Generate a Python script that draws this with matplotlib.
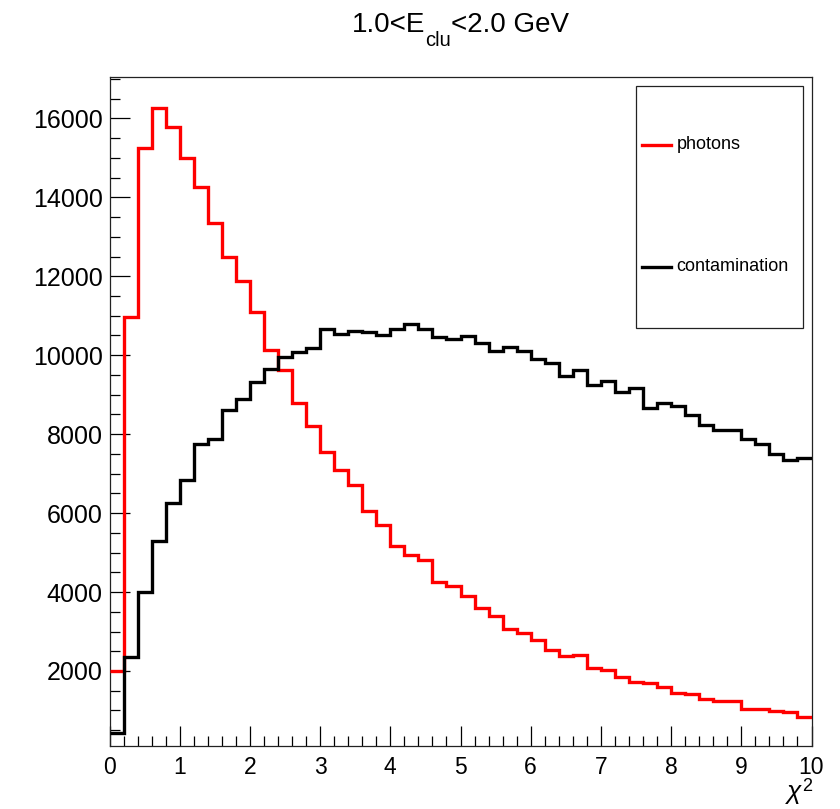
import numpy as np
import matplotlib
matplotlib.use("Agg")
import matplotlib.pyplot as plt
from matplotlib.ticker import MultipleLocator
from matplotlib.transforms import IdentityTransform
from matplotlib.patches import Rectangle
from matplotlib.lines import Line2D

# ---------------- data ----------------
x_min, x_max, n_bins = 0.0, 10.0, 50
photons = [1990, 10970, 15255, 16253, 15787, 14986, 14267, 13340, 12494, 11878,
           11090, 10131, 9624, 8781, 8214, 7540, 7091, 6711, 6052, 5698,
           5174, 4938, 4811, 4263, 4153, 3900, 3588, 3393, 3055, 2954,
           2785, 2532, 2390, 2400, 2084, 2025, 1857, 1710, 1700, 1587,
           1451, 1417, 1290, 1245, 1235, 1035, 1025, 986, 969, 843]
contamination = [422, 2347, 4009, 5301, 6247, 6838, 7750, 7869, 8611, 8890,
                 9328, 9642, 9946, 10088, 10173, 10654, 10527, 10612, 10578, 10511,
                 10654, 10780, 10654, 10468, 10401, 10485, 10300, 10113, 10214, 10113,
                 9895, 9810, 9472, 9624, 9244, 9345, 9075, 9159, 8653, 8780,
                 8712, 8484, 8231, 8110, 8100, 7869, 7750, 7489, 7344, 7387]
labels = ["photons", "contamination"]
colors = ["#ff0000", "#000000"]
title_parts = ("1.0<E", "clu", "<2.0 GeV")
xlabel_parts = ("\u03c7", "2")
x_ticks = list(range(0, 11))
y_ticks = list(range(2000, 16001, 2000))

# ---------------- style ----------------
plt.rcParams['font.family'] = ['Liberation Sans', 'DejaVu Sans']

W, H = 840, 809
fig = plt.figure(figsize=(W / 100, H / 100), dpi=100)
ax = fig.add_axes([109.5 / W, 1 - 746 / H, 702 / W, (746 - 77.3) / H])

edges = np.linspace(x_min, x_max, n_bins + 1)
ax.stairs(photons, edges, baseline=None, color=colors[0], linewidth=2.4, zorder=3)
ax.stairs(contamination, edges, baseline=None, color=colors[1], linewidth=2.4, zorder=4)

ax.set_xlim(x_min, x_max)
ax.set_ylim(100, 17040)

ax.set_xticks(x_ticks)
ax.set_yticks(y_ticks)
ax.xaxis.set_minor_locator(MultipleLocator(0.2))
ax.yaxis.set_minor_locator(MultipleLocator(500))

ax.tick_params(axis='both', which='both', direction='in', top=False, right=False,
               color='black', width=0.9)
ax.tick_params(axis='x', which='major', length=14.4, labelsize=16.5, pad=7)
ax.tick_params(axis='x', which='minor', length=7.2)
ax.tick_params(axis='y', which='major', length=14.4, labelsize=18, pad=5)
ax.tick_params(axis='y', which='minor', length=7.2)
for s in ax.spines.values():
    s.set_linewidth(0.9)
    s.set_color('#222222')

# legend (ROOT style box)
ax.add_patch(Rectangle((0.750, 0.6255), 0.988 - 0.750, 0.9874 - 0.6255,
                       transform=ax.transAxes, fill=True, facecolor='white',
                       edgecolor='#222222', linewidth=0.9, zorder=5))
for lab, col, yy in zip(labels, colors, (0.8988, 0.7168)):
    ax.add_line(Line2D([0.7585, 0.7994], [yy, yy], transform=ax.transAxes,
                       color=col, linewidth=2.4, zorder=6))
    ax.text(0.808, yy, lab, transform=ax.transAxes, fontsize=13,
            ha='left', va='center', zorder=6)

fig.canvas.draw()
r = fig.canvas.get_renderer()

# title with ROOT-like subscript, centered over the frame
base_y = H - 32
sub_y = H - 46
t1 = fig.text(0, base_y, title_parts[0], fontsize=20, transform=IdentityTransform(),
              ha='left', va='baseline')
t2 = fig.text(0, sub_y, title_parts[1], fontsize=14.5, transform=IdentityTransform(),
              ha='left', va='baseline')
t3 = fig.text(0, base_y, title_parts[2], fontsize=20, transform=IdentityTransform(),
              ha='left', va='baseline')
w1 = t1.get_window_extent(r).width
w2 = t2.get_window_extent(r).width
w3 = t3.get_window_extent(r).width
total = w1 + w2 + w3
x0 = 460.5 - total / 2
t1.set_x(x0)
t2.set_x(x0 + w1)
t3.set_x(x0 + w1 + w2)

# x axis title chi^2, right aligned to the frame
c1 = fig.text(0, H - 799, xlabel_parts[0], fontsize=19, fontstyle='italic',
              transform=IdentityTransform(), ha='left', va='baseline')
c2 = fig.text(0, H - 791, xlabel_parts[1], fontsize=13, transform=IdentityTransform(),
              ha='left', va='baseline')
wc1 = c1.get_window_extent(r).width
wc2 = c2.get_window_extent(r).width
xr = 812
c1.set_x(xr - wc1 - wc2 - 1)
c2.set_x(xr - wc2)

fig.savefig("out.png", dpi=100)
